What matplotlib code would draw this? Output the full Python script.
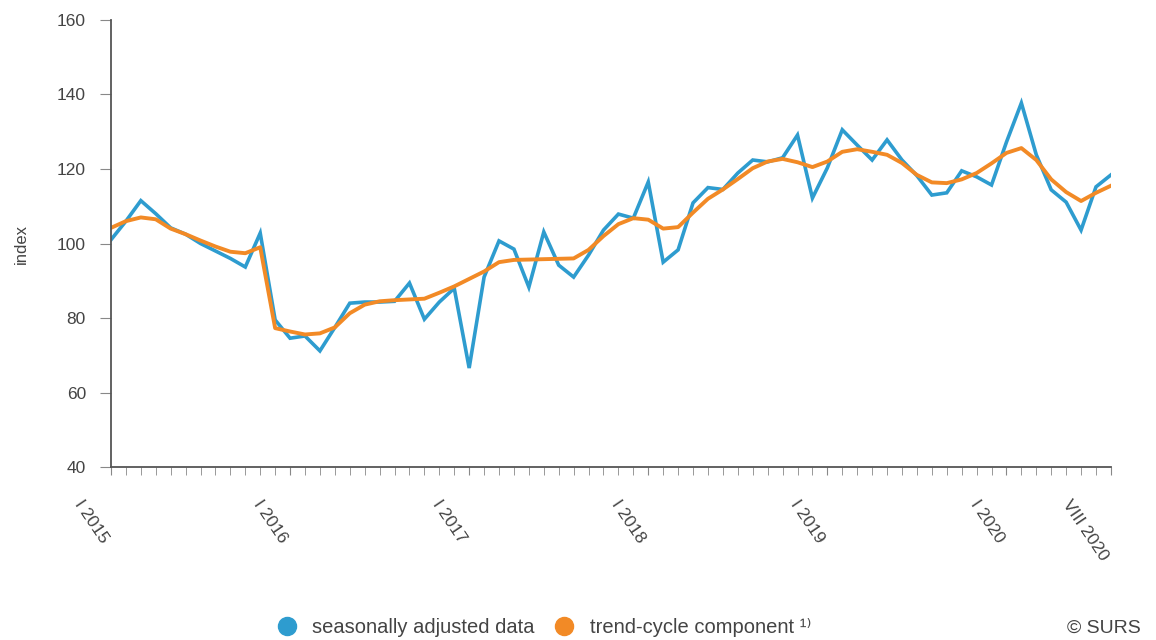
import matplotlib.pyplot as plt
from matplotlib.lines import Line2D

plt.rcParams['font.family'] = ['Liberation Sans', 'DejaVu Sans']

# monthly, I 2015 .. VIII 2020
seasonally_adjusted = [
    101.0, 106.0, 111.5, 108.0, 104.2, 102.5, 100.0, 98.0, 96.0, 93.7, 102.8, 79.5,
    74.6, 75.2, 71.2, 77.5, 84.0, 84.3, 84.3, 84.5, 89.4, 79.7, 84.3, 88.0,
    66.6, 91.0, 100.7, 98.5, 88.3, 103.1, 94.2, 91.0, 96.9, 103.6, 107.9, 106.8,
    116.5, 95.0, 98.3, 110.9, 115.0, 114.5, 118.9, 122.4, 121.9, 123.0, 129.1, 112.2,
    120.3, 130.5, 126.4, 122.4, 127.8, 122.4, 118.2, 113.0, 113.6, 119.5, 117.9, 115.7,
    127.2, 137.7, 123.8, 114.4, 111.1, 103.6, 115.2, 118.4,
]
trend_cycle = [
    104.2, 106.0, 107.0, 106.5, 104.0, 102.5, 100.8, 99.2, 97.8, 97.4, 99.0, 77.3,
    76.4, 75.6, 75.9, 77.5, 81.3, 83.6, 84.5, 84.8, 85.0, 85.2, 86.8, 88.5,
    90.5, 92.5, 95.0, 95.6, 95.7, 95.8, 95.9, 96.0, 98.3, 102.0, 105.2, 106.8,
    106.4, 104.0, 104.4, 108.3, 112.0, 114.5, 117.3, 120.2, 122.0, 122.7, 121.8, 120.5,
    122.0, 124.6, 125.3, 124.6, 123.8, 121.6, 118.4, 116.4, 116.2, 117.2, 118.9, 121.5,
    124.3, 125.6, 122.4, 117.2, 113.8, 111.4, 113.6, 115.5,
]
tick_pos = [0, 12, 24, 36, 48, 60, 67]
tick_labels = ["I 2015", "I 2016", "I 2017", "I 2018", "I 2019", "I 2020", "VIII 2020"]

blue = "#2e9ccf"
orange = "#f28a26"
months = list(range(len(seasonally_adjusted)))

fig = plt.figure(figsize=(11.56, 6.4), dpi=100)
ax = fig.add_axes([0.096, 0.27, 0.865, 0.699])

ax.plot(months, seasonally_adjusted, color=blue, lw=2.6, solid_joinstyle='miter')
ax.plot(months, trend_cycle, color=orange, lw=2.8)

ax.set_xlim(0, 67)
ax.set_ylim(40, 160)
ax.set_yticks(range(40, 161, 20))
ax.set_xticks(months, minor=True)
ax.set_xticks(tick_pos)
ax.set_xticklabels(tick_labels, rotation=-56, ha='right', va='top')

for s in ['top', 'right']:
    ax.spines[s].set_visible(False)
for s in ['left', 'bottom']:
    ax.spines[s].set_color('#555555')
    ax.spines[s].set_linewidth(1.3)

ax.tick_params(axis='y', length=8, color='#888888', labelsize=12.5, labelcolor='#444444', pad=10)
ax.tick_params(axis='x', which='both', length=6, color='#888888', direction='out')
ax.tick_params(axis='x', which='major', labelsize=12.5, labelcolor='#444444', pad=16)
ax.set_ylabel("index", fontsize=12, color='#444444', labelpad=20)

handles = [
    Line2D([], [], ls='none', marker='o', markersize=13, color=blue),
    Line2D([], [], ls='none', marker='o', markersize=13, color=orange),
]
fig.legend(handles, ["seasonally adjusted data", "trend-cycle component \u00b9\u207e"],
           loc='center', bbox_to_anchor=(0.466, 0.02), ncol=2, frameon=False,
           fontsize=14.5, handletextpad=0.25, columnspacing=0.5, labelcolor='#444444')
fig.text(0.987, 0.018, "\u00a9 SURS", ha='right', va='center', fontsize=14, color='#444444')

fig.savefig("out.png", dpi=100)
